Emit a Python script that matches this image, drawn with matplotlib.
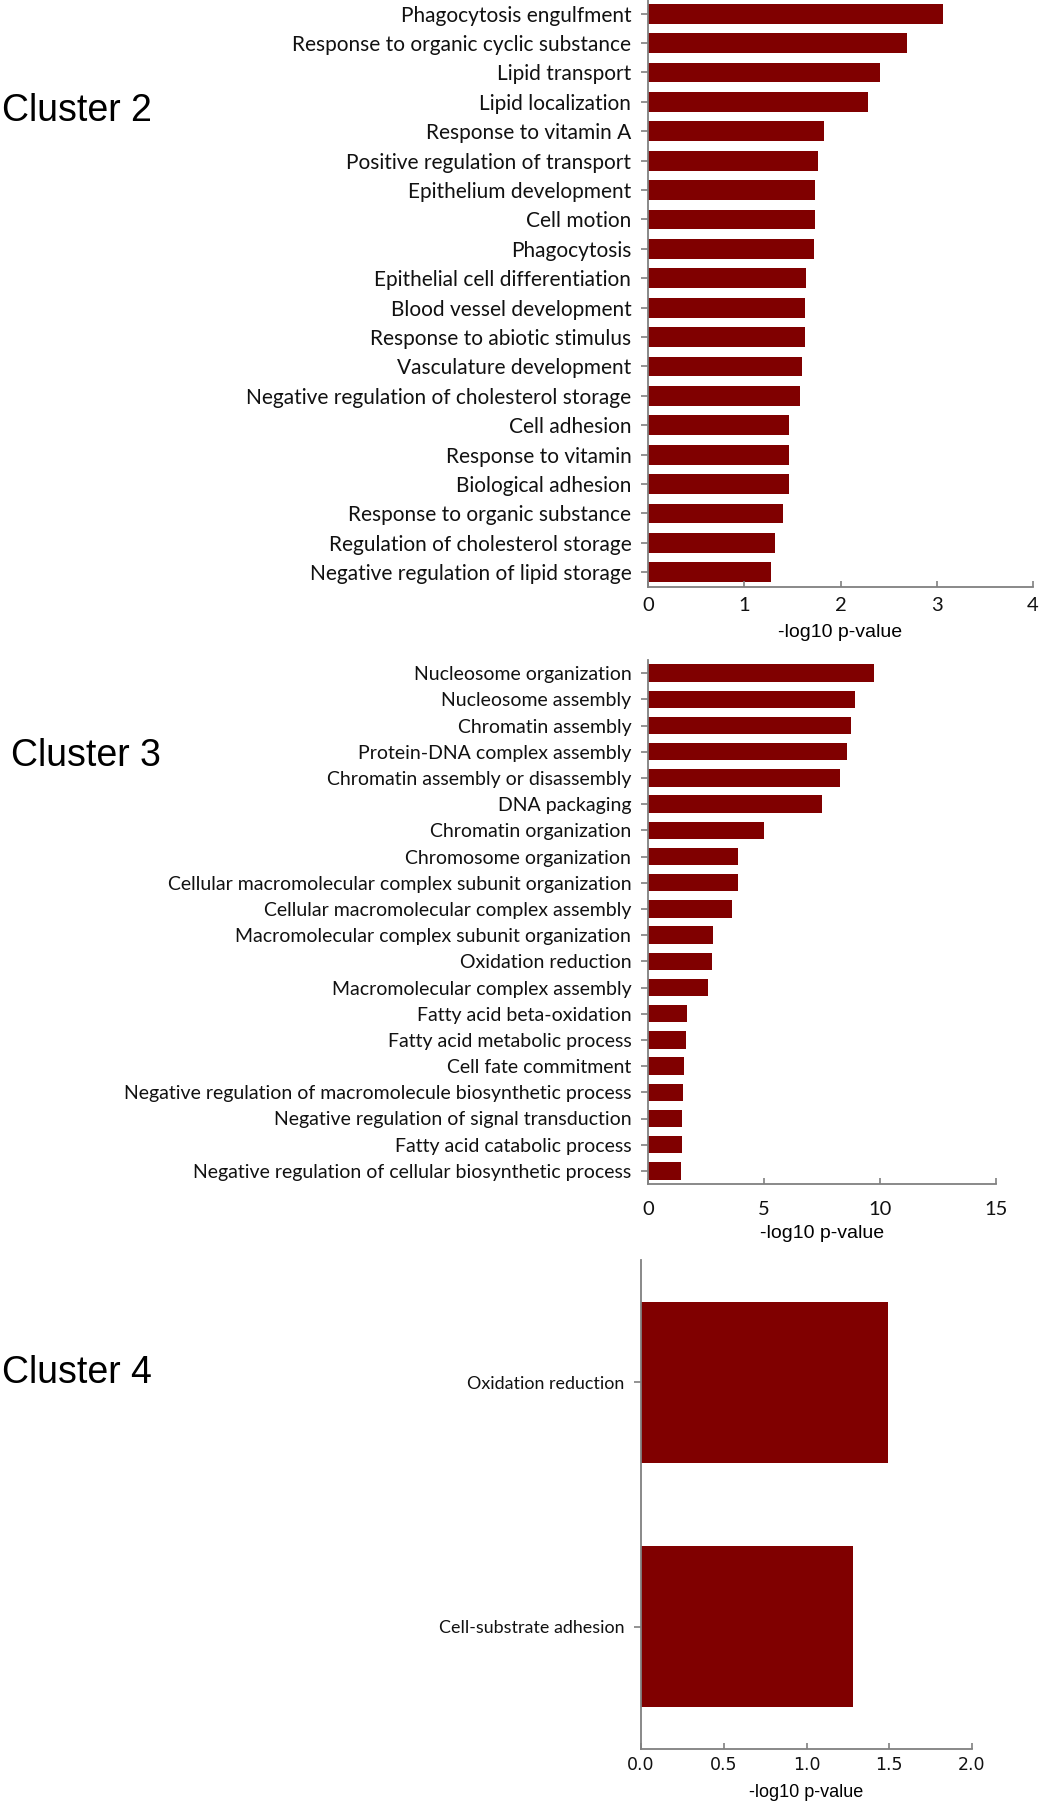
import matplotlib
matplotlib.use("Agg")
import matplotlib.pyplot as plt

BAR_COLOR = "#800000"
SPINE_COLOR = "#808080"
LABEL_FONT = "Lato"
AXIS_FONT = "Liberation Sans"

# Cluster 2
c2_terms = ["Phagocytosis engulfment", "Response to organic cyclic substance",
            "Lipid transport", "Lipid localization", "Response to vitamin A",
            "Positive regulation of transport", "Epithelium development",
            "Cell motion", "Phagocytosis", "Epithelial cell differentiation",
            "Blood vessel development", "Response to abiotic stimulus",
            "Vasculature development",
            "Negative regulation of cholesterol storage", "Cell adhesion",
            "Response to vitamin", "Biological adhesion",
            "Response to organic substance",
            "Regulation of cholesterol storage",
            "Negative regulation of lipid storage"]
c2_vals = [3.07, 2.69, 2.41, 2.29, 1.83, 1.77, 1.74, 1.73, 1.72, 1.64,
           1.63, 1.63, 1.60, 1.58, 1.46, 1.46, 1.46, 1.40, 1.32, 1.28]
c2_ticks = [0, 1, 2, 3, 4]

# Cluster 3
c3_terms = ["Nucleosome organization", "Nucleosome assembly",
            "Chromatin assembly", "Protein-DNA complex assembly",
            "Chromatin assembly or disassembly", "DNA packaging",
            "Chromatin organization", "Chromosome organization",
            "Cellular macromolecular complex subunit organization",
            "Cellular macromolecular complex assembly",
            "Macromolecular complex subunit organization",
            "Oxidation reduction", "Macromolecular complex assembly",
            "Fatty acid beta-oxidation", "Fatty acid metabolic process",
            "Cell fate commitment",
            "Negative regulation of macromolecule biosynthetic process",
            "Negative regulation of signal transduction",
            "Fatty acid catabolic process",
            "Negative regulation of cellular biosynthetic process"]
c3_vals = [9.73, 8.92, 8.76, 8.57, 8.27, 7.50, 5.01, 3.88, 3.88, 3.61,
           2.81, 2.76, 2.60, 1.66, 1.65, 1.57, 1.49, 1.47, 1.45, 1.42]
c3_ticks = [0, 5, 10, 15]

# Cluster 4
c4_terms = ["Oxidation reduction", "Cell-substrate adhesion"]
c4_vals = [1.49, 1.28]
c4_ticks = [0.0, 0.5, 1.0, 1.5, 2.0]

W, H = 1039, 1804
fig = plt.figure(figsize=(W / 100, H / 100), dpi=100)


def px_axes(left, right, top, bottom):
    return fig.add_axes([left / W, 1 - bottom / H, (right - left) / W,
                         (bottom - top) / H])


def bar_panel(ax, terms, vals, ticks, bar_h, lab_size, tick_size,
              tick_font, tick_fmt, tick_pad, xlab_size, xlab_pad):
    y = list(range(len(terms)))
    ax.barh(y, vals, height=bar_h, color=BAR_COLOR)
    ax.set_ylim(len(terms) - 0.5, -0.5)
    ax.set_xlim(ticks[0], ticks[-1])
    ax.set_yticks(y)
    ax.set_yticklabels(terms, fontsize=lab_size, family=LABEL_FONT,
                       color="#111111")
    ax.set_xticks(ticks)
    ax.set_xticklabels([tick_fmt.format(t) for t in ticks],
                       fontsize=tick_size, family=tick_font, color="#111111")
    for s in ["top", "right"]:
        ax.spines[s].set_visible(False)
    for s in ["left", "bottom"]:
        ax.spines[s].set_color(SPINE_COLOR)
        ax.spines[s].set_linewidth(1.3)
    ax.tick_params(axis="y", direction="out", length=5, width=1.2,
                   color=SPINE_COLOR, pad=7)
    ax.tick_params(axis="x", direction="in", length=4, width=1.2,
                   color=SPINE_COLOR, pad=tick_pad)
    ax.set_xlabel("-log10 p-value", fontsize=xlab_size, family=AXIS_FONT,
                  labelpad=xlab_pad)


ax1 = px_axes(648, 1033, -1, 587)
bar_panel(ax1, c2_terms, c2_vals, c2_ticks, 0.67, 15, 14.5, LABEL_FONT,
          "{:d}", 7.5, 14, 7)

ax2 = px_axes(648, 996, 660, 1184)
bar_panel(ax2, c3_terms, c3_vals, c3_ticks, 0.66, 14, 14.5, LABEL_FONT,
          "{:d}", 12, 14, 5)

ax3 = px_axes(641, 972, 1260, 1749)
bar_panel(ax3, c4_terms, c4_vals, c4_ticks, 0.66, 12.9, 12.5,
          "DejaVu Sans", "{:.1f}", 5, 13, 7.5)

fig.text(2 / W, 1 - 111 / H, "Cluster 2", fontsize=27, family=AXIS_FONT,
         va="center", ha="left")
fig.text(11 / W, 1 - 756 / H, "Cluster 3", fontsize=27, family=AXIS_FONT,
         va="center", ha="left")
fig.text(2 / W, 1 - 1373 / H, "Cluster 4", fontsize=27, family=AXIS_FONT,
         va="center", ha="left")

fig.savefig("out.png", dpi=100)
